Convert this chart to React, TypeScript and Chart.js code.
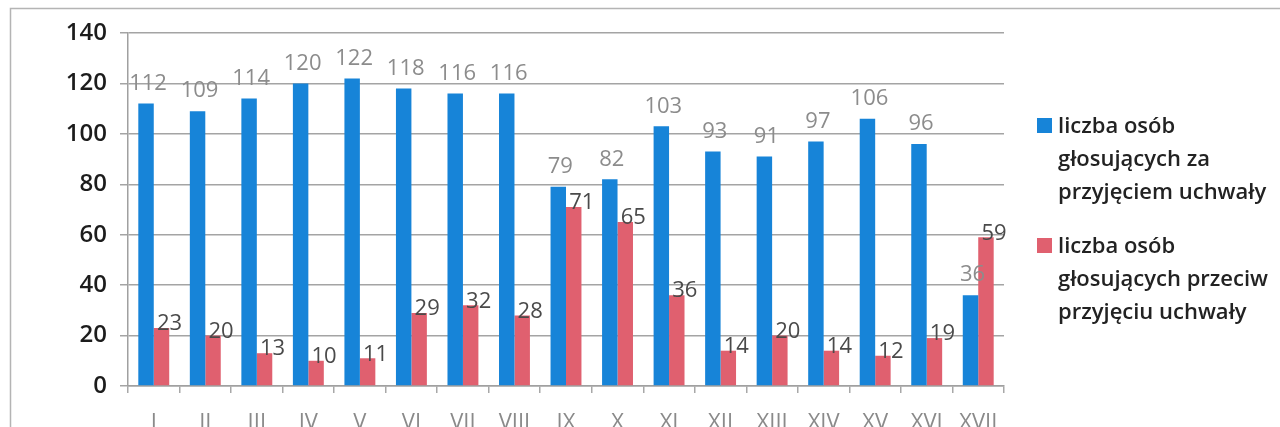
import React, { useEffect, useRef } from "react";
import { Chart, registerables } from "chart.js";

Chart.register(...registerables);

// Sessions (Roman numerals) and vote counts per session
const categories = ["I", "II", "III", "IV", "V", "VI", "VII", "VIII", "IX", "X", "XI", "XII", "XIII", "XIV", "XV", "XVI", "XVII"];
const votesFor = [112, 109, 114, 120, 122, 118, 116, 116, 79, 82, 103, 93, 91, 97, 106, 96, 36];
const votesAgainst = [23, 20, 13, 10, 11, 29, 32, 28, 71, 65, 36, 14, 20, 14, 12, 19, 59];

const legendForLines = ["liczba osób", "głosujących za", "przyjęciem uchwały"];
const legendAgainstLines = ["liczba osób", "głosujących przeciw", "przyjęciu uchwały"];

const yMin = 0;
const yMax = 140;
const yStep = 20;

const BLUE = "#1784d8";
const RED = "#e0606f";
const FONT = "'Open Sans', 'DejaVu Sans', sans-serif";

const valueLabels = {
  id: "valueLabels",
  afterDatasetsDraw(chart: any) {
    const { ctx } = chart;
    ctx.save();
    ctx.font = `22px ${FONT}`;
    ctx.textAlign = "center";
    ctx.textBaseline = "middle";
    chart.data.datasets.forEach((ds: any, di: number) => {
      const meta = chart.getDatasetMeta(di);
      meta.data.forEach((el: any, i: number) => {
        const v = ds.data[i];
        if (di === 0) {
          ctx.fillStyle = "#8c8c8c";
          ctx.fillText(String(v), el.x + 2, el.y - 20);
        } else {
          ctx.fillStyle = "#4a4a4a";
          ctx.fillText(String(v), el.x + 8, el.y - 4);
        }
      });
    });
    ctx.restore();
  },
};

const sideLegend = {
  id: "sideLegend",
  beforeDraw(chart: any) {
    const { ctx } = chart;
    ctx.save();
    ctx.fillStyle = "#ffffff";
    ctx.fillRect(0, 0, chart.width, chart.height);
    ctx.strokeStyle = "#b4b4b4";
    ctx.lineWidth = 1.5;
    ctx.strokeRect(10.5, 8.5, chart.width + 20, chart.height + 20);
    ctx.restore();
  },
  afterDraw(chart: any) {
    const { ctx } = chart;
    ctx.save();
    ctx.font = `600 22px ${FONT}`;
    ctx.textAlign = "left";
    ctx.textBaseline = "alphabetic";
    const items = [
      { color: BLUE, lines: legendForLines, top: 118 },
      { color: RED, lines: legendAgainstLines, top: 238 },
    ];
    items.forEach((it) => {
      ctx.fillStyle = it.color;
      ctx.fillRect(1037, it.top, 15, 15);
      ctx.fillStyle = "#222222";
      it.lines.forEach((line, k) => {
        ctx.fillText(line, 1058, it.top + 15 + k * 33);
      });
    });
    ctx.restore();
  },
};

export default function App() {
  const canvasRef = useRef<HTMLCanvasElement | null>(null);

  useEffect(() => {
    if (!canvasRef.current) return;
    const chart = new Chart(canvasRef.current, {
      type: "bar",
      data: {
        labels: categories,
        datasets: [
          {
            label: legendForLines.join(" "),
            data: votesFor,
            backgroundColor: BLUE,
            categoryPercentage: 0.6,
            barPercentage: 1.0,
          },
          {
            label: legendAgainstLines.join(" "),
            data: votesAgainst,
            backgroundColor: RED,
            categoryPercentage: 0.6,
            barPercentage: 1.0,
          },
        ],
      },
      options: {
        responsive: false,
        animation: false,
        devicePixelRatio: 1,
        layout: { padding: { left: 0, right: 276, top: 33, bottom: 0 } },
        plugins: {
          legend: { display: false },
          tooltip: { enabled: false },
          title: { display: false },
        },
        scales: {
          x: {
            afterFit: (scale: any) => {
              scale.height = 41;
            },
            grid: {
              offset: true,
              drawOnChartArea: false,
              drawTicks: true,
              tickLength: 7,
              color: "#a8a8a8",
              lineWidth: 1.5,
            },
            border: { display: true, color: "#a0a0a0", width: 1.5 },
            ticks: {
              color: "#8a8a8a",
              font: { family: FONT, size: 22 },
              padding: 17,
              maxRotation: 0,
              autoSkip: false,
            },
          },
          y: {
            min: yMin,
            max: yMax,
            afterFit: (scale: any) => {
              scale.width = 128;
            },
            grid: {
              color: "#a4a4a4",
              lineWidth: 1.5,
              tickLength: 8,
            },
            border: { display: true, color: "#a0a0a0", width: 1.5 },
            ticks: {
              stepSize: yStep,
              color: "#1c1c1c",
              font: { family: FONT, size: 24, weight: 600 },
              padding: 13,
            },
          },
        },
      },
      plugins: [sideLegend, valueLabels],
    });
    return () => chart.destroy();
  }, []);

  return (
    <div style={{ position: "fixed", left: 0, top: 0, width: 1280, height: 427, background: "#fff" }}>
      <canvas ref={canvasRef} width={1280} height={427} style={{ display: "block" }} />
    </div>
  );
}
